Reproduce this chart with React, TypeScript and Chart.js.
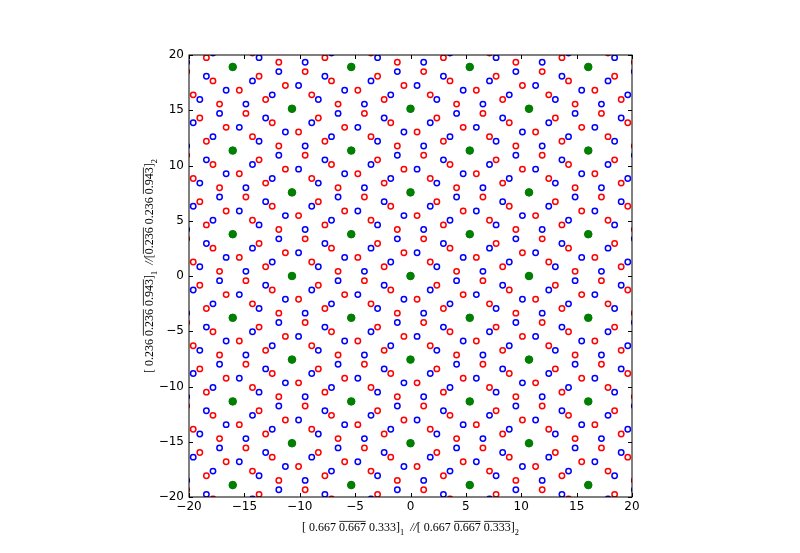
import React, { useEffect, useRef } from "react";
import { Chart, registerables } from "chart.js";

Chart.register(...registerables);

// Axis range and tick spacing
const AXIS_MIN = -20;
const AXIS_MAX = 20;
const TICK_STEP = 5;

// Basis vectors of the projected lattices (red = crystal 2, blue = crystal 1)
const redBasisA = [0.5945, -2.102];
const redBasisB = [1.7835, 1.2612];
const blueBasisA = [0.5945, 2.102];
const blueBasisB = [1.7835, -1.2612];
// Coincidence-site lattice (green)
const greenBasisA = [5.3505, 3.7836];
const greenBasisB = [5.3505, -3.7836];

type Part = { t: string; over?: boolean; sub?: boolean; it?: boolean };

const xLabelParts: Part[] = [
  { t: "[ 0.667 " },
  { t: "0.667", over: true },
  { t: " 0.333]" },
  { t: "1", sub: true },
  { t: "  " },
  { t: "//", it: true },
  { t: "[ 0.667 " },
  { t: "0.667", over: true },
  { t: " " },
  { t: "0.333", over: true },
  { t: "]" },
  { t: "2", sub: true },
];

const yLabelParts: Part[] = [
  { t: "[ 0.236 " },
  { t: "0.236", over: true },
  { t: " " },
  { t: "0.943", over: true },
  { t: "]" },
  { t: "1", sub: true },
  { t: "  " },
  { t: "//", it: true },
  { t: "[" },
  { t: "0.236", over: true },
  { t: " 0.236 " },
  { t: "0.943", over: true },
  { t: "]" },
  { t: "2", sub: true },
];

function latticePoints(a: number[], b: number[], lim: number) {
  const pts: { x: number; y: number }[] = [];
  for (let i = -60; i <= 60; i++) {
    for (let j = -60; j <= 60; j++) {
      const x = i * a[0] + j * b[0];
      const y = i * a[1] + j * b[1];
      if (Math.abs(x) <= lim && Math.abs(y) <= lim) pts.push({ x, y });
    }
  }
  return pts;
}

function drawRich(ctx: CanvasRenderingContext2D, parts: Part[], cx: number, cy: number, rotate: boolean, size: number) {
  ctx.save();
  ctx.translate(cx, cy);
  if (rotate) ctx.rotate(-Math.PI / 2);
  const fam = '"Liberation Serif", "DejaVu Serif", serif';
  const fontFor = (p: Part) => `${p.it ? "italic " : ""}${p.sub ? size * 0.7 : size}px ${fam}`;
  let total = 0;
  const widths = parts.map((p) => {
    ctx.font = fontFor(p);
    const w = ctx.measureText(p.t).width;
    total += w;
    return w;
  });
  let x = -total / 2;
  ctx.fillStyle = "#000";
  ctx.strokeStyle = "#000";
  ctx.textBaseline = "alphabetic";
  ctx.textAlign = "left";
  parts.forEach((p, i) => {
    ctx.font = fontFor(p);
    const y = p.sub ? size * 0.3 : 0;
    ctx.fillText(p.t, x, y);
    if (p.over) {
      ctx.lineWidth = 0.8;
      ctx.beginPath();
      ctx.moveTo(x + 0.3, -size * 0.8);
      ctx.lineTo(x + widths[i] - 0.3, -size * 0.8);
      ctx.stroke();
    }
    x += widths[i];
  });
  ctx.restore();
}

const framePlugin = {
  id: "frameAndLabels",
  afterDatasetsDraw(chart: any) {
    const { ctx, chartArea: a, scales } = chart;
    ctx.save();
    ctx.strokeStyle = "#000";
    ctx.lineWidth = 1;
    const L = 4;
    ctx.beginPath();
    for (let v = AXIS_MIN; v <= AXIS_MAX; v += TICK_STEP) {
      const px = Math.round(scales.x.getPixelForValue(v)) + 0.5;
      ctx.moveTo(px, a.bottom);
      ctx.lineTo(px, a.bottom - L);
      ctx.moveTo(px, a.top);
      ctx.lineTo(px, a.top + L);
      const py = Math.round(scales.y.getPixelForValue(v)) + 0.5;
      ctx.moveTo(a.left, py);
      ctx.lineTo(a.left + L, py);
      ctx.moveTo(a.right, py);
      ctx.lineTo(a.right - L, py);
    }
    ctx.stroke();
    ctx.strokeRect(a.left, a.top, a.right - a.left, a.bottom - a.top);
    ctx.restore();
  },
  afterDraw(chart: any) {
    const { ctx, chartArea: a } = chart;
    const cx = (a.left + a.right) / 2;
    drawRich(ctx, xLabelParts, cx, 531, false, 12);
    drawRich(ctx, yLabelParts, 153, 266, true, 12);
  },
};

const fmt = (v: any) => String(v).replace("-", "\u2212");

export default function App() {
  const ref = useRef<HTMLCanvasElement | null>(null);
  useEffect(() => {
    if (!ref.current) return;
    const lim = 20.4;
    const green = latticePoints(greenBasisA, greenBasisB, lim);
    const red = latticePoints(redBasisA, redBasisB, lim);
    const blue = latticePoints(blueBasisA, blueBasisB, lim);
    const tickFont = { family: '"DejaVu Sans", sans-serif', size: 12 };
    const chart = new Chart(ref.current, {
      type: "scatter",
      data: {
        datasets: [
          {
            label: "coincident",
            data: green,
            pointRadius: 3.8,
            pointBackgroundColor: "#008000",
            pointBorderColor: "#008000",
            pointBorderWidth: 1,
            clip: 0,
          } as any,
          {
            label: "crystal 1",
            data: blue,
            pointRadius: 2.7,
            pointBackgroundColor: "rgba(0,0,0,0)",
            pointBorderColor: "#0000ff",
            pointBorderWidth: 1.5,
            clip: 0,
          } as any,
          {
            label: "crystal 2",
            data: red,
            pointRadius: 2.7,
            pointBackgroundColor: "rgba(0,0,0,0)",
            pointBorderColor: "#ff0000",
            pointBorderWidth: 1.5,
            clip: 0,
          } as any,
        ],
      },
      options: {
        responsive: false,
        animation: false,
        events: [],
        layout: { padding: { left: 144, right: 168, top: 55, bottom: 34 } },
        plugins: { legend: { display: false }, tooltip: { enabled: false } },
        scales: {
          x: {
            type: "linear",
            position: "bottom",
            min: AXIS_MIN,
            max: AXIS_MAX,
            grid: { display: false, drawTicks: false },
            border: { display: false },
            ticks: { stepSize: TICK_STEP, color: "#000", font: tickFont, padding: 3, maxRotation: 0, autoSkip: false, callback: fmt },
            afterFit: (s: any) => {
              s.height = 22;
            },
          },
          y: {
            type: "linear",
            position: "left",
            min: AXIS_MIN,
            max: AXIS_MAX,
            grid: { display: false, drawTicks: false },
            border: { display: false },
            ticks: { stepSize: TICK_STEP, color: "#000", font: tickFont, padding: 5, autoSkip: false, callback: fmt },
            afterFit: (s: any) => {
              s.width = 45;
            },
          },
        },
      },
      plugins: [framePlugin],
    } as any);
    return () => chart.destroy();
  }, []);
  return (
    <div style={{ position: "absolute", left: 0, top: 0, width: 800, height: 553, background: "#fff" }}>
      <canvas ref={ref} width={800} height={553} style={{ width: 800, height: 553, display: "block" }} />
    </div>
  );
}
